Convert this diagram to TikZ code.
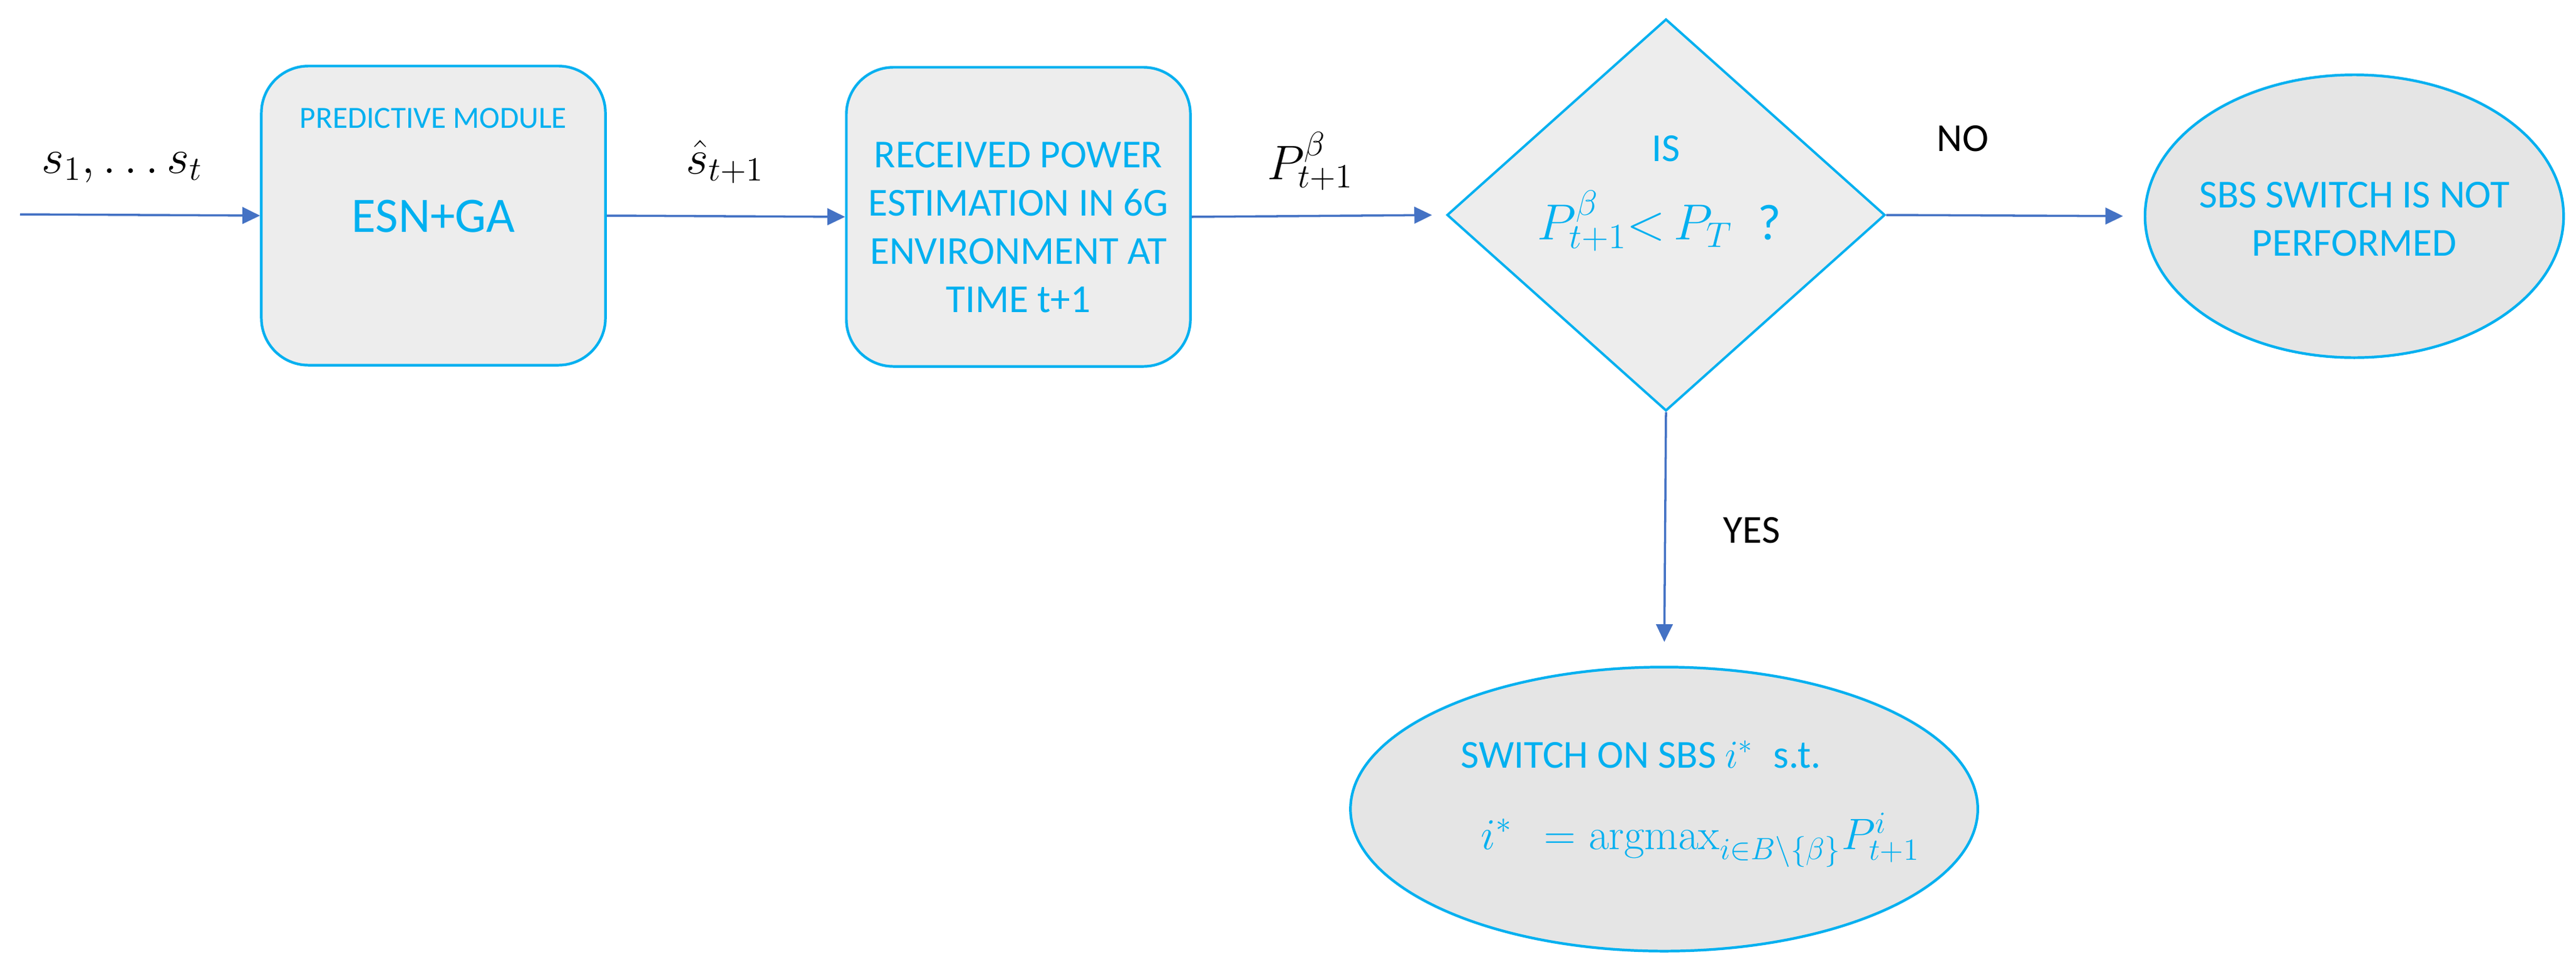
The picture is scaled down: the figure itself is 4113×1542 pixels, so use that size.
\RequirePackage{fix-cm}
\documentclass[tikz,border=0pt]{standalone}
\usepackage[no-math]{fontspec}
\setmainfont{Carlito}
\usetikzlibrary{shapes.geometric,arrows.meta}
\definecolor{cyanb}{HTML}{00B0F0}
\definecolor{arrowb}{HTML}{4472C4}
\definecolor{boxfill}{HTML}{EDEDED}
\definecolor{ellfill}{HTML}{E5E5E5}
\begin{document}
\begin{tikzpicture}[x=0.01cm,y=-0.01cm,
  stepbox/.style={draw=cyanb, line width=1.2pt, fill=boxfill, rounded corners=0.75cm,
    minimum width=5.49cm, minimum height=4.77cm, inner sep=0pt},
  decision/.style={diamond, draw=cyanb, line width=1.1pt, fill=boxfill,
    minimum width=6.99cm, minimum height=6.25cm, inner sep=0pt},
  endell/.style={ellipse, draw=cyanb, line width=1.2pt, fill=ellfill, inner sep=0pt},
  flow/.style={draw=arrowb, line width=1pt, -{Triangle[length=8pt,width=7.5pt]}},
  bluetxt/.style={text=cyanb, font=\fontsize{18}{21.9}\selectfont, align=center, inner sep=0pt},
  blacklbl/.style={text=black, inner sep=0pt},
  mathlbl/.style={text=black, inner sep=0pt, font=\fontsize{22}{26}\selectfont}
]
\useasboundingbox (0,0) rectangle (4113,1542);

% shapes
\node[stepbox] (box1) at (692,344) {};
\node[stepbox] (box2) at (1626,346) {};
\node[decision] (dia) at (2660,343) {};
\node[endell, minimum width=6.68cm, minimum height=4.51cm] (notsw) at (3759,345) {};
\node[endell, minimum width=10.01cm, minimum height=4.53cm] (swon) at (2657,1291) {};

% texts in shapes
\node[bluetxt, font=\fontsize{14}{17}\selectfont] (pm) at (692,189) {PREDICTIVE MODULE};
\node[bluetxt, font=\fontsize{22.5}{27}\selectfont] (esn) at (692,345) {ESN+GA};
\node[bluetxt] (rp) at (1626,363) {RECEIVED POWER\\ESTIMATION IN 6G\\ENVIRONMENT AT\\TIME t+1};
\node[bluetxt] (is) at (2660,237) {IS};
\node[bluetxt, font=\fontsize{23}{27}\selectfont, anchor=base] (cond) at (2649,382)
  {$P^{\beta}_{t+1}{<}\,P_T$\enspace ?};
\node[bluetxt] (nottxt) at (3759,350) {SBS SWITCH IS NOT\\PERFORMED};
\node[bluetxt, anchor=base west] (sw1) at (2332,1225) {SWITCH ON SBS $i^{*}$\enspace s.t.};
\node[bluetxt, anchor=base west, font=\fontsize{20}{24}\selectfont] (sw2) at (2364,1355)
  {$i^{*}\ \ = \mathrm{argmax}_{i\in B\backslash\{\beta\}}P^{i}_{t+1}$};

% labels
\node[mathlbl, anchor=base] (sin) at (195,276) {$s_1,\ldots s_t$};
\node[mathlbl, anchor=base] (shat) at (1158,277) {$\hat{s}_{t+1}$};
\node[mathlbl, anchor=base] (plbl) at (2092,286) {$P^{\beta}_{t+1}$};
\node[blacklbl, font=\fontsize{18}{21.9}\selectfont] (no) at (3134,221) {NO};
\node[blacklbl, font=\fontsize{18}{21.9}\selectfont] (yes) at (2797,846) {YES};

% connectors
\coordinate (start) at (32,342);
\draw[flow] (start) -- (box1.west);
\draw[flow] (box1.east) -- (box2.west);
\draw[flow, shorten >=0.22cm] (box2.east) -- (dia.west);
\draw[flow, shorten >=0.33cm] (dia.east) -- (notsw.west);
\draw[flow, shorten >=0.38cm] (dia.south) -- (swon.north);
\end{tikzpicture}
\end{document}
